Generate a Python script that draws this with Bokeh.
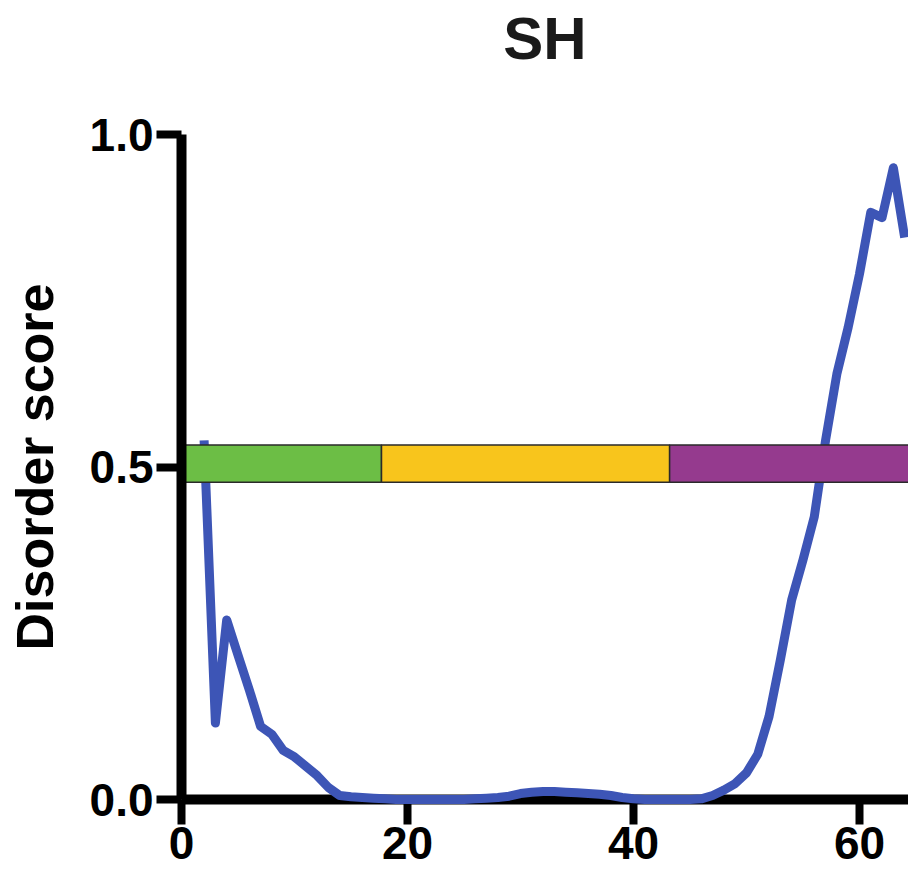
from bokeh.plotting import figure
from bokeh.models import Range1d, FixedTicker, ColumnDataSource, LinearAxis
from bokeh.embed import file_html
from bokeh.resources import INLINE

# ---- data ----
residues = list(range(2, 65))
disorder = [0.54, 0.115, 0.27, 0.217, 0.165, 0.11, 0.098, 0.074, 0.064, 0.05,
            0.036, 0.018, 0.006, 0.004, 0.003, 0.002, 0.001, 0.0, 0.0, 0.0,
            0.0, 0.0, 0.0, 0.0, 0.001, 0.002, 0.003, 0.005, 0.009, 0.011,
            0.012, 0.012, 0.011, 0.010, 0.009, 0.008, 0.006, 0.003, 0.001, 0.0,
            0.0, 0.0, 0.0, 0.0, 0.001, 0.006, 0.014, 0.024, 0.04, 0.068,
            0.125, 0.21, 0.3, 0.36, 0.425, 0.54, 0.64, 0.71, 0.79, 0.883,
            0.875, 0.95, 0.845]

domain_start = [0.0, 17.7, 43.2]
domain_end = [17.7, 43.2, 70.0]
domain_color = ["#6CBE45", "#F8C51C", "#953A8E"]
domain_bottom = 0.477
domain_top = 0.533

x_ticks = [0, 20, 40, 60]
y_ticks = [0.0, 0.5, 1.0]
y_tick_labels = {0.0: "0.0", 0.5: "0.5", 1.0: "1.0"}
title_text = "SH"

FONT = "Liberation Sans"

p = figure(width=908, height=878, output_backend="svg", toolbar_location=None,
           x_range=Range1d(0, 64.34), y_range=Range1d(0.0, 1.0),
           min_border_left=181, min_border_right=0, min_border_top=134,
           min_border_bottom=79)

p.background_fill_color = "white"
p.border_fill_color = "white"
p.outline_line_color = None
p.grid.visible = False

xa = p.below[0]
ya = p.left[0]

# title: an axis label above the frame (no ticks, no line)
title_axis = LinearAxis(ticker=FixedTicker(ticks=[]), axis_label=title_text,
                        axis_line_color=None, major_tick_line_color=None,
                        minor_tick_line_color=None,
                        major_tick_out=0, major_tick_in=0,
                        minor_tick_out=0, minor_tick_in=0,
                        major_label_text_font_size="1px",
                        major_label_standoff=0,
                        axis_label_standoff=63,
                        axis_label_text_font=FONT,
                        axis_label_text_font_size="60px",
                        axis_label_text_font_style="bold",
                        axis_label_text_color="#1a1a1a")
p.add_layout(title_axis, "above")

# line (drawn above the x axis)
src = ColumnDataSource(dict(x=residues, y=disorder))
p.line("x", "y", source=src, line_color="#3D55B6", line_width=9,
       line_join="round", level="annotation")

# domain bars (drawn over the line)
bsrc = ColumnDataSource(dict(left=domain_start, right=domain_end,
                             color=domain_color))
p.quad(left="left", right="right", bottom=domain_bottom, top=domain_top,
       source=bsrc, fill_color="color", line_color="#2a2a2a", line_width=1.5,
       level="annotation")

# axes styling
for ax in (xa, ya):
    ax.axis_line_width = 10
    ax.axis_line_color = "black"
    ax.major_tick_line_width = 8
    ax.major_tick_line_color = "black"
    ax.major_tick_out = 25
    ax.major_tick_in = 0
    ax.minor_tick_out = 0
    ax.minor_tick_in = 0
    ax.major_label_text_font = FONT
    ax.major_label_text_font_size = "46px"
    ax.major_label_text_font_style = "bold"
    ax.major_label_text_color = "black"

xa.ticker = FixedTicker(ticks=x_ticks)
xa.major_label_standoff = 2

ya.ticker = FixedTicker(ticks=y_ticks)
ya.level = "overlay"
ya.major_label_overrides = y_tick_labels
ya.major_label_standoff = 3
ya.axis_label = "Disorder score"
ya.axis_label_text_font = FONT
ya.axis_label_text_font_size = "52px"
ya.axis_label_text_font_style = "bold"
ya.axis_label_text_color = "black"
ya.axis_label_standoff = 23

open("out.html", "w").write(file_html(p, INLINE))
